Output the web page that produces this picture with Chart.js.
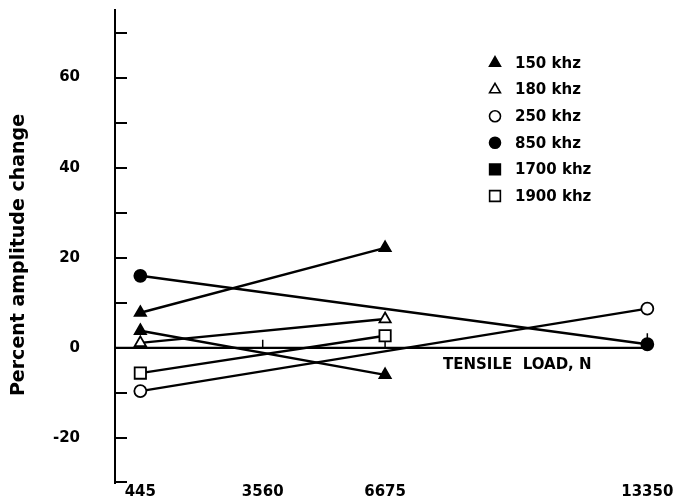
<!DOCTYPE html>
<html>
<head>
<meta charset="utf-8">
<script src="https://cdn.jsdelivr.net/npm/chart.js@4/dist/chart.umd.min.js"></script>
<style>
	body { margin: 0; background: #fff; }
	canvas { display: block; }
</style>
</head>
<body>
<canvas id="ampChart" width="678" height="499"></canvas>
<script>
// tensile loads (N) used as x tick labels
const loads = [445, 3560, 6675, 13350];
// y labels that are printed (the other 10-step ticks stay bare)
const yLabels = [-20, 0, 20, 40, 60];

// series: each one is two loads -> two values
const x150 = [445, 6675];
const y150a = [7.8, 22.2];
const y150b = [3.8, -6];
const x180 = [445, 6675];
const y180 = [1.1, 6.4];
const x250 = [445, 13350];
const y250 = [-9.6, 8.7];
const x850 = [445, 13350];
const y850 = [16, 0.8];
const x1900 = [445, 6675];
const y1900 = [-5.6, 2.7];
// the zero line running out to the last load
const xZero = [-200, 13350];
const yZero = [0, 0];

const legendNames = ['150 khz', '180 khz', '250 khz', '850 khz', '1700 khz', '1900 khz'];

const FONT = "'DejaVu Sans', sans-serif";

function pts(xs, ys)
{
	return xs.map((x, i) => ({ x: x, y: ys[i] }));
}

function serie(label, data, style, filled, radius)
{
	return {
		label: label,
		data: data,
		borderColor: '#000',
		borderWidth: 2.4,
		pointStyle: style,
		pointRadius: radius,
		pointBorderWidth: 1.8,
		pointBackgroundColor: filled ? '#000' : '#fff',
		pointBorderColor: '#000',
		fill: false,
		tension: 0
	};
}

// legend drawn inside the plot, right upper corner
const legendMarks = [
	{ style: 'triangle', filled: true, r: 6.3 },
	{ style: 'triangle', filled: false, r: 6.3 },
	{ style: 'circle', filled: false, r: 5.5 },
	{ style: 'circle', filled: true, r: 5.5 },
	{ style: 'rect', filled: true, r: 7.6 },
	{ style: 'rect', filled: false, r: 7.6 }
];

const extrasPlugin = {
	id: 'extras',
	afterDraw(chart) {
		const ctx = chart.ctx;
		const xs = chart.scales.x;
		const ys = chart.scales.y;
		const area = chart.chartArea;
		ctx.save();

		// inward ticks on the y axis
		ctx.strokeStyle = '#000';
		ctx.lineWidth = 2;
		ys.ticks.forEach(t => {
			if (t.value >= ys.max)
				return;
			const py = Math.round(ys.getPixelForValue(t.value)) - (t.value <= ys.min ? 1 : 0);
			ctx.beginPath();
			ctx.moveTo(area.left, py);
			ctx.lineTo(area.left + 12, py);
			ctx.stroke();
		});

		// small marks: on the zero line at 3560, under the 1900 khz square, over the 850 khz dot
		const y0 = ys.getPixelForValue(0);
		ctx.lineWidth = 1.5;
		ctx.beginPath();
		let px = xs.getPixelForValue(loads[1]);
		ctx.moveTo(px, y0);
		ctx.lineTo(px, y0 - 8);
		px = xs.getPixelForValue(x1900[1]);
		ctx.moveTo(px, y0);
		ctx.lineTo(px, ys.getPixelForValue(y1900[1]) + 6);
		px = xs.getPixelForValue(x850[1]);
		const pyc = ys.getPixelForValue(y850[1]);
		ctx.moveTo(px, pyc - 6);
		ctx.lineTo(px, pyc - 11);
		ctx.stroke();

		// text under the zero line
		ctx.fillStyle = '#000';
		ctx.font = 'bold 15px ' + FONT;
		ctx.textBaseline = 'middle';
		ctx.textAlign = 'left';
		ctx.fillText('TENSILE  LOAD, N', 443, y0 + 17);

		// legend
		ctx.font = 'bold 15px ' + FONT;
		for (let i = 0; i < legendNames.length; i++)
		{
			const ly = 63 + i * 26.6;
			const m = legendMarks[i];
			ctx.fillStyle = m.filled ? '#000' : '#fff';
			ctx.strokeStyle = '#000';
			ctx.lineWidth = 1.6;
			Chart.helpers.drawPoint(ctx, { pointStyle: m.style, radius: m.r, borderWidth: 1.6, rotation: 0 }, 495, ly);
			ctx.fillStyle = '#000';
			ctx.fillText(legendNames[i], 515, ly + 1);
		}

		// y axis title
		ctx.translate(19, 255);
		ctx.rotate(-Math.PI / 2);
		ctx.textAlign = 'center';
		ctx.font = 'bold 19px ' + FONT;
		ctx.fillText('Percent amplitude change', 0, 0);
		ctx.restore();
	}
};

const datasets = [
	serie('150 khz', pts(x150, y150a), 'triangle', true, 6.5),
	serie('150 khz', pts(x150, y150b), 'triangle', true, 6.5),
	serie('180 khz', pts(x180, y180), 'triangle', false, 6.5),
	serie('250 khz', pts(x250, y250), 'circle', false, 6),
	serie('850 khz', pts(x850, y850), 'circle', true, 6),
	serie('1900 khz', pts(x1900, y1900), 'rect', false, 8),
	{
		label: 'zero',
		data: pts(xZero, yZero),
		borderColor: '#000',
		borderWidth: 2.4,
		pointRadius: 0,
		tension: 0
	}
];

const ctx = document.getElementById('ampChart').getContext('2d');
new Chart(ctx, {
	type: 'line',
	data: { datasets: datasets },
	options: {
		responsive: false,
		animation: false,
		layout: { padding: { top: 10, right: 13, left: 0, bottom: 0 } },
		plugins: {
			legend: { display: false },
			tooltip: { enabled: false }
		},
		scales: {
			x: {
				type: 'linear',
				min: -200,
				max: 13800,
				afterFit: (scale) => { scale.height = 16; },
				afterBuildTicks: (scale) => {
					scale.ticks = loads.map(v => ({ value: v }));
				},
				grid: { display: false, drawTicks: false },
				border: { display: false },
				ticks: {
					padding: 0,
					color: '#000',
					font: { family: FONT, size: 15, weight: 'bold' },
					callback: (v) => String(v),
					maxRotation: 0,
					autoSkip: false
				}
			},
			y: {
				min: -30,
				max: 75,
				afterFit: (scale) => { scale.width = 115; },
				// the long invisible tick only pushes the labels off the axis
				grid: { drawOnChartArea: false, drawTicks: true, tickLength: 35, tickColor: 'rgba(0,0,0,0)' },
				border: { display: true, color: '#000', width: 2 },
				ticks: {
					stepSize: 10,
					padding: 0,
					color: '#000',
					font: { family: FONT, size: 15, weight: 'bold' },
					callback: (v) => yLabels.includes(v) ? String(v) : ''
				}
			}
		}
	},
	plugins: [extrasPlugin]
});
</script>
</body>
</html>
